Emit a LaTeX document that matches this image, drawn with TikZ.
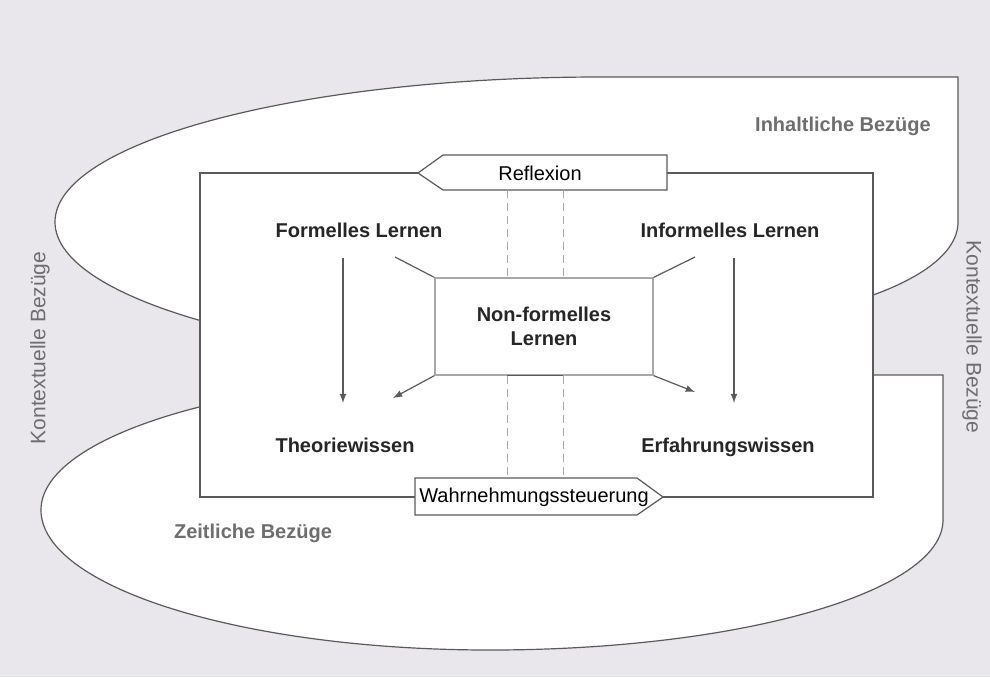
\documentclass[tikz,border=0pt]{standalone}
\usepackage{fontspec}
\setmainfont{Liberation Sans}
\usepackage{xcolor}
\usepackage{tikz}
\usetikzlibrary{arrows}

\definecolor{linegray}{HTML}{5A5A5A}
\definecolor{labelgray}{HTML}{6E6E6E}
\definecolor{bggray}{HTML}{E9E7EB}
\definecolor{boxgray}{HTML}{A9A7AB}

\begin{document}
\begin{tikzpicture}[x=0.5pt,y=-0.5pt,
    outline/.style={draw=linegray,line width=0.6pt,fill=white},
    frame/.style={draw=linegray,line width=0.6pt},
    flow/.style={draw=linegray,line width=0.6pt,-latex},
    guide/.style={draw=boxgray,line width=0.5pt,dash pattern=on 4pt off 2.5pt},
    lern/.style={font=\bfseries,text=black!85},
    bezug/.style={font=\bfseries,text=labelgray},
    kontext/.style={font=\fontsize{10.5}{12}\selectfont,text=labelgray}]
    \fill[bggray] (0,0) rectangle (990,677);
    \useasboundingbox (0,0) rectangle (990,677);

    % the two loops
    \draw[outline] (600,77) -- (958,77) -- (958,222)
      .. controls (958,255) and (915,280) .. (873,295)
      -- (700,340) -- (600,367)
      .. controls (299,367) and (55,302) .. (55,222)
      .. controls (55,142) and (299,77) .. (600,77) -- cycle;
    \draw[outline] (943,375) -- (943,520)
      .. controls (943,592) and (740,650) .. (490,650)
      .. controls (242,650) and (41,587) .. (41,510)
      .. controls (41,435) and (242,375) .. (490,375) -- cycle;

    % inner frame
    \coordinate (ul) at (200,173);
    \coordinate (ur) at (873,173);
    \coordinate (ll) at (200,497);
    \coordinate (lr) at (873,497);
    \fill[white] (ul) rectangle (lr);
    \coordinate (refltip) at (418,173);
    \coordinate (reflend) at (667,173);
    \coordinate (wahrend) at (415,497);
    \coordinate (wahrtip) at (663,497);
    \draw[frame] (refltip) -- (ul) -- (ll) -- (wahrend);
    \draw[frame] (reflend) -- (ur) -- (lr) -- (wahrtip);

    \draw[outline] (refltip) -- (443,155) -- (667,155) -- (667,190) -- (443,190) -- cycle;
    \node (reflexion) at (540,173) {Reflexion};
    \draw[outline] (wahrend) -- (415,478) -- (637,478) -- (wahrtip) -- (637,515) -- (415,515) -- cycle;
    \node (wahrnehmung) at (534,497) {Wahrnehmungssteuerung};

    \node[draw=boxgray,line width=0.6pt,fill=white,minimum width=109pt,minimum height=48.5pt,
      align=center,lern] (nonformell) at (544,326.5) {Non-formelles\\Lernen};

    % dashed guides
    \coordinate (guidea) at (507,190);
    \coordinate (guideb) at (563,190);
    \coordinate (guidec) at (507,478);
    \coordinate (guided) at (563,478);
    \draw[guide] (guidea) -- (nonformell.north -| guidea);
    \draw[guide] (guideb) -- (nonformell.north -| guideb);
    \draw[guide] (nonformell.south -| guidec) -- (guidec);
    \draw[guide] (nonformell.south -| guided) -- (guided);
    \draw[frame] (nonformell.south -| guidec) -- (nonformell.south -| guided);

    \node[lern] (formell) at (359,230) {Formelles Lernen};
    \node[lern] (informell) at (730,230) {Informelles Lernen};
    \node[lern,anchor=base] (theorie) at (345,452) {Theoriewissen};
    \node[lern,anchor=base] (erfahrung) at (728,452) {Erfahrungswissen};

    \coordinate (fa) at (343,258);
    \coordinate (fb) at (343,403);
    \coordinate (ia) at (734,258);
    \coordinate (ib) at (734,403);
    \draw[flow] (fa) -- (fb);
    \draw[flow] (ia) -- (ib);

    \coordinate (nl) at (395,257);
    \coordinate (nr) at (695,257);
    \coordinate (tl) at (393,398);
    \coordinate (tr) at (695,392);
    \draw[frame] (nl) -- (nonformell.north west);
    \draw[frame] (nonformell.north east) -- (nr);
    \draw[flow] (nonformell.south west) -- (tl);
    \draw[flow] (nonformell.south east) -- (tr);

    \node[bezug] (inhalt) at (843,126) {Inhaltliche Bezüge};
    \node[bezug] (zeit) at (253,533) {Zeitliche Bezüge};
    \node[kontext,rotate=90] (kontextl) at (40,348) {Kontextuelle Bezüge};
    \node[kontext,rotate=-90] (kontextr) at (972,337) {Kontextuelle Bezüge};
\end{tikzpicture}
\end{document}
